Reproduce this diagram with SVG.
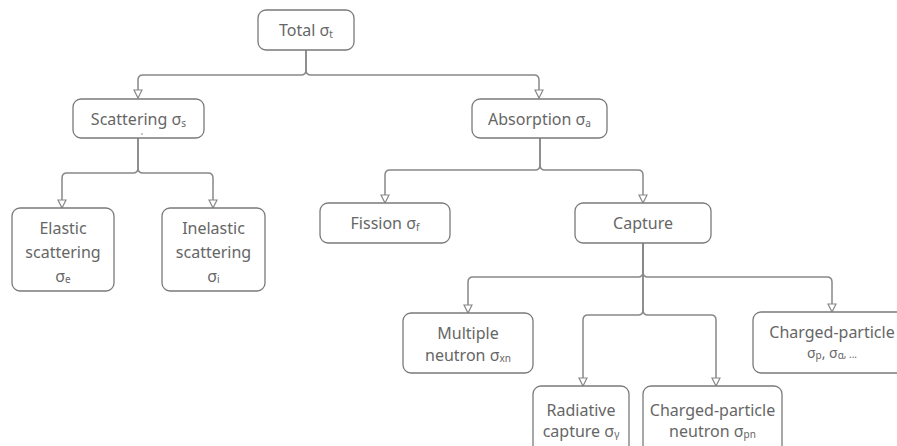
<svg xmlns="http://www.w3.org/2000/svg" width="897" height="446" viewBox="0 0 897 446">
<defs>
<marker id="arr" viewBox="0 0 10 10" refX="9" refY="5" markerWidth="10" markerHeight="10" markerUnits="userSpaceOnUse" orient="auto">
<path d="M1,1 L9,5 L1,9 Z" fill="#fff" stroke="#888" stroke-width="1.2"/>
</marker>
<style>
.box{fill:#fff;stroke:#7a7a7a;stroke-width:1.3}
.t{font-family:"Noto Sans","Open Sans",sans-serif;font-size:16px;fill:#666;text-anchor:middle}
.s{font-size:10px}
.c{fill:none;stroke:#888;stroke-width:1.5;marker-end:url(#arr)}
</style>
</defs>
<rect width="897" height="446" fill="#fff"/>
<g id="connectors">
<path class="c" d="M306,50 V70 Q306,75 301,75 H143 Q138,75 138,80 V98"/>
<path class="c" d="M306,50 V70 Q306,75 311,75 H534 Q539,75 539,80 V98"/>
<path class="c" d="M138,138 V168 Q138,173 133,173 H67 Q62,173 62,178 V208"/>
<path class="c" d="M138,138 V168 Q138,173 143,173 H208 Q213,173 213,178 V208"/>
<path class="c" d="M540,138 V165 Q540,170 535,170 H390 Q385,170 385,175 V203"/>
<path class="c" d="M540,138 V165 Q540,170 545,170 H638 Q643,170 643,175 V203"/>
<path class="c" d="M643,243 V272 Q643,277 638,277 H473 Q468,277 468,282 V313"/>
<path class="c" d="M643,243 V272 Q643,277 648,277 H827 Q832,277 832,282 V312"/>
<path class="c" d="M643,243 V310 Q643,315 638,315 H588 Q583,315 583,320 V386"/>
<path class="c" d="M643,243 V310 Q643,315 648,315 H711 Q716,315 716,320 V386"/>
</g>
<g id="total"><rect class="box" x="258" y="10" width="96" height="40" rx="8"/>
<text class="t" x="306" y="36">Total σ<tspan class="s" dy="2">t</tspan></text></g>
<g id="scattering"><rect class="box" x="73" y="99" width="131" height="39" rx="8"/>
<text class="t" x="138.5" y="125">Scattering σ<tspan class="s" dy="2">s</tspan></text>
<circle cx="142" cy="134" r="0.8" fill="#777"/></g>
<g id="absorption"><rect class="box" x="472" y="99" width="135" height="39" rx="8"/>
<text class="t" x="539.5" y="125">Absorption σ<tspan class="s" dy="2">a</tspan></text></g>
<g id="elastic"><rect class="box" x="12" y="208" width="102" height="83" rx="8"/>
<text class="t" x="63" y="234">Elastic</text>
<text class="t" x="63" y="258">scattering</text>
<text class="t" x="63" y="282">σ<tspan class="s" dy="1">e</tspan></text></g>
<g id="inelastic"><rect class="box" x="162" y="208" width="103" height="83" rx="8"/>
<text class="t" x="213.5" y="234">Inelastic</text>
<text class="t" x="213.5" y="258">scattering</text>
<text class="t" x="213.5" y="282">σ<tspan class="s" dy="1">i</tspan></text></g>
<g id="fission"><rect class="box" x="320" y="203" width="130" height="40" rx="8"/>
<text class="t" x="385" y="229">Fission σ<tspan class="s" dy="2">f</tspan></text></g>
<g id="capture"><rect class="box" x="575" y="203" width="136" height="40" rx="8"/>
<text class="t" x="643" y="229">Capture</text></g>
<g id="multiple"><rect class="box" x="403" y="313" width="130" height="60" rx="8"/>
<text class="t" x="468" y="339">Multiple</text>
<text class="t" x="468" y="361">neutron σ<tspan class="s" dy="1">xn</tspan></text></g>
<g id="charged"><rect class="box" x="753" y="312" width="158" height="61" rx="8"/>
<text class="t" x="832" y="338">Charged-particle</text>
<text class="t" x="832" y="358" style="font-size:14px">σ<tspan class="s" dy="1">p</tspan><tspan dy="-1">, σ</tspan><tspan class="s" dy="1">α</tspan><tspan dy="-1" class="s">, ...</tspan></text></g>
<g id="radiative"><rect class="box" x="533" y="386" width="96" height="70" rx="8"/>
<text class="t" x="581" y="416">Radiative</text>
<text class="t" x="581" y="437">capture σ<tspan class="s" dy="1">γ</tspan></text></g>
<g id="cpneutron"><rect class="box" x="643" y="386" width="139" height="70" rx="8"/>
<text class="t" x="712.5" y="416">Charged-particle</text>
<text class="t" x="712.5" y="437">neutron σ<tspan class="s" dy="1">pn</tspan></text></g>
</svg>
